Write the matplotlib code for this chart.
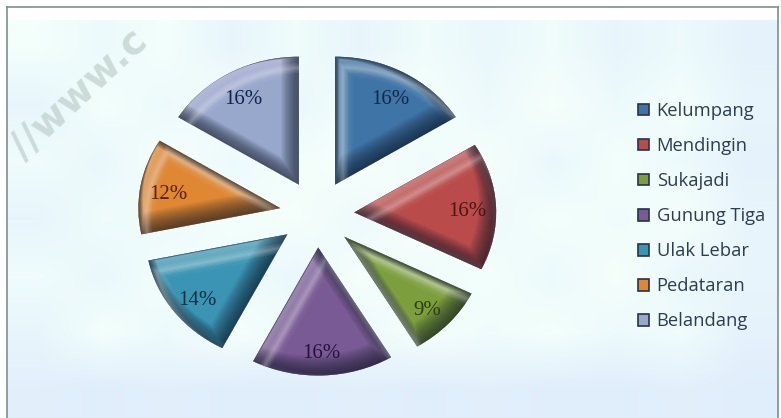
import matplotlib
matplotlib.use('Agg')
import matplotlib.pyplot as plt
from matplotlib.patches import PathPatch, Patch
from matplotlib.transforms import Affine2D

W, H = 781, 418

kecamatan = ['Kelumpang', 'Mendingin', 'Sukajadi', 'Gunung Tiga', 'Ulak Lebar', 'Pedataran', 'Belandang']
persen = [16, 16, 9, 16, 14, 12, 16]
warna = ['#3f74a6', '#b94c4b', '#7d9e3c', '#795a94', '#3b94b4', '#df8733', '#98a8cc']
warna_teks = ['#12284a', '#4a1512', '#2c400f', '#25123f', '#0e3040', '#5a1e05', '#14224a']
ledakan = [0.262] * 7

# soft blue patches of the panel background
latar = [
    [.96, .94, .96, .92, .95, .92, .95, .93, .95, .92, .94, .91],
    [.92, .96, .94, .97, .93, .96, .97, .94, .97, .94, .96, .92],
    [.95, .93, .97, .94, .96, .98, .95, .97, .93, .96, .94, .91],
    [.92, .95, .94, .96, .97, .94, .98, .94, .96, .95, .97, .92],
    [.95, .93, .96, .95, .93, .97, .95, .96, .94, .97, .93, .92],
    [.92, .96, .94, .97, .95, .94, .97, .95, .96, .94, .95, .91],
    [.90, .89, .90, .89, .89, .90, .89, .90, .89, .89, .90, .89],
]

fig = plt.figure(figsize=(W / 100, H / 100), dpi=100, facecolor='white')

# panel with the grey frame
bg = fig.add_axes([7 / W, 0, (W - 10) / W, (H - 7) / H], facecolor='white')
bg.set_xticks([])
bg.set_yticks([])
bg.spines['bottom'].set_visible(False)
for s in ['left', 'top', 'right']:
    bg.spines[s].set_color('#7f8f8c')
    bg.spines[s].set_linewidth(1.2)
rgb = [[(v - 0.01, min(v + 0.04, 1.0), 0.985) for v in row] for row in latar]
bg.imshow(rgb, extent=(0, 1, 0, 0.968), aspect='auto', interpolation='bilinear')
bg.set_xlim(0, 1)
bg.set_ylim(0, 1)

# pie axes fill the figure, one data unit is the ellipse radius
rx, ry, cx, cy = 142, 128, 317, 214
ax = fig.add_axes([0, 0, 1, 1])
ax.patch.set_alpha(0)
wedges, _, pct = ax.pie(persen, colors=warna, explode=ledakan, startangle=90, counterclock=False,
                        autopct='%.0f%%', pctdistance=0.8, radius=1,
                        textprops={'family': 'Liberation Serif', 'fontsize': 15})
ax.set_aspect('auto')
ax.set_xlim(-cx / rx, (W - cx) / rx)
ax.set_ylim(-(H - cy) / ry, cy / ry)


def rim(wedge, path, color, lw, alpha, dx, dy, z):
    # stroke of the wedge outline, moved in pixels and cut to the wedge
    p = PathPatch(path, fc='none', ec=color, lw=lw, alpha=alpha, zorder=z,
                  transform=ax.transData + Affine2D().translate(dx, dy))
    ax.add_patch(p)
    p.set_clip_path(wedge)


for wedge, t, c in zip(wedges, pct, warna_teks):
    t.set_color(c)
    t.set_zorder(10)
    t.set_transform(ax.transData + Affine2D().translate(0, -4))
    wedge.set_edgecolor('none')
    path = wedge.get_path()
    # bevel: light rim on the upper left, dark rim on the lower right
    for lw in range(16, 0, -1):
        s = lw * 0.7
        rim(wedge, path, 'white', lw, 0.022, s * 0.6, -s * 0.8, 3)
        rim(wedge, path, '#0c1424', lw, 0.055, -s * 0.6, s * 0.8, 4)
    # glint a little way inside the upper edge
    for lw in [7, 5, 3, 1.5]:
        rim(wedge, path, 'white', lw, 0.07, 8, -11, 5)

handles = [Patch(facecolor=c, edgecolor='#26324a', linewidth=1.2) for c in warna]
leg = ax.legend(handles, kecamatan, loc='upper left', bbox_to_anchor=(638 / W, 1 - 102 / H),
                frameon=False, handlelength=0.6, handleheight=0.6, handletextpad=0.42,
                labelspacing=0.93, borderpad=0, borderaxespad=0,
                prop={'family': 'Open Sans', 'size': 13.2})
for t in leg.get_texts():
    t.set_color('#2e3d50')

# faint diagonal watermark in the corner
ax.text(24 / W, 1 - 160 / H, '//www.c', transform=ax.transAxes, rotation=43,
        rotation_mode='anchor', fontsize=28, fontweight='bold', color='#c4d4d0', alpha=0.8, zorder=6)

fig.savefig('out.png', dpi=100)
